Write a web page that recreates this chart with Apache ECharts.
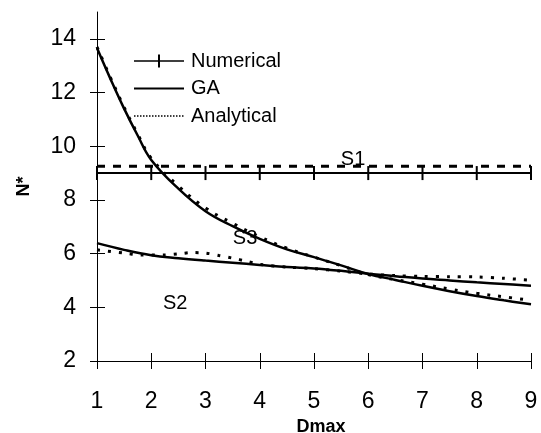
<!DOCTYPE html>
<html>
<head>
<meta charset="utf-8">
<script src="https://cdn.jsdelivr.net/npm/echarts@6/dist/echarts.min.js"></script>
<style>
  html, body { margin: 0; padding: 0; background: #fff; }
  #chart { width: 541px; height: 433px; }
</style>
</head>
<body>
<div id="chart"></div>
<script>
// S1 (flat case)
const s1X = [1, 2, 3, 4, 5, 6, 7, 8, 9];
const s1Numerical = [9, 9, 9, 9, 9, 9, 9, 9, 9];
const s1Analytical = [9.25, 9.25, 9.25, 9.25, 9.25, 9.25, 9.25, 9.25, 9.25];

// S3 (steep curve)
const s3X = [1, 1.25, 1.5, 1.75, 2, 2.5, 3, 3.5, 4, 4.5, 5, 5.5, 6, 6.5, 7, 7.5, 8, 8.5, 9];
const s3GA = [13.66, 12.5, 11.4, 10.4, 9.49, 8.42, 7.58, 7.02, 6.55, 6.16, 5.87, 5.56, 5.24, 5.02, 4.80, 4.60, 4.42, 4.26, 4.11];
const s3Analytical = [13.7, 12.55, 11.45, 10.45, 9.55, 8.52, 7.7, 7.13, 6.63, 6.2, 5.87, 5.55, 5.22, 5.03, 4.86, 4.68, 4.52, 4.39, 4.26];

// S2 (flat-ish curve)
const s2X = [1, 1.5, 2, 2.5, 3, 3.5, 4, 4.5, 5, 5.5, 6, 6.5, 7, 7.5, 8, 8.5, 9];
const s2GA = [6.39, 6.14, 5.94, 5.83, 5.74, 5.66, 5.58, 5.50, 5.45, 5.36, 5.25, 5.16, 5.07, 5.00, 4.93, 4.87, 4.80];
const s2AnalyticalX = [1, 1.5, 1.8, 2.25, 2.5, 2.75, 3, 3.25, 3.5, 3.75, 4, 4.5, 5, 5.5, 6, 6.5, 7, 7.5, 8, 8.5, 9];
const s2Analytical = [6.14, 6.02, 5.95, 5.95, 5.99, 6.04, 6.02, 5.93, 5.83, 5.72, 5.60, 5.50, 5.44, 5.35, 5.24, 5.18, 5.15, 5.14, 5.13, 5.08, 5.01];

// curve labels
const curveLabels = ['S1', 'S2', 'S3'];
const curveLabelX = [5.72, 2.44, 3.73];
const curveLabelY = [9.49, 4.16, 6.58];

const yTicks = [2, 4, 6, 8, 10, 12, 14];

const font = 'Liberation Sans, Arial, sans-serif';
const zip = (xs, ys) => xs.map((x, i) => [x, ys[i]]);

let option = {
    animation: false,
    backgroundColor: '#fff',
    grid: { left: 97, right: 10, top: 12, bottom: 72, outerBoundsMode: 'none', containLabel: false },
    legend: {
        orient: 'vertical',
        left: 128,
        top: 46,
        itemWidth: 50,
        itemHeight: 14,
        itemGap: 7.5,
        textStyle: { fontFamily: font, fontSize: 20, color: '#000', lineHeight: 20, padding: [0, 0, 0, 2] },
        data: [
            { name: 'Numerical', icon: 'path://M0,6.2H24V0.5H26V6.2H50V7.8H26V13.5H24V7.8H0Z' },
            { name: 'GA', itemStyle: { color: 'rgba(0,0,0,0)', borderWidth: 0 } },
            { name: 'Analytical', itemStyle: { color: 'rgba(0,0,0,0)', borderWidth: 0 }, lineStyle: { type: 'dotted', width: 1.5 } }
        ]
    },
    xAxis: [{
        type: 'value', min: 1, max: 9, interval: 1,
        name: 'Dmax', nameLocation: 'middle', nameGap: 53,
        nameTextStyle: { fontFamily: font, fontSize: 18, fontWeight: 'bold', color: '#000', padding: [0, 0, 0, 14] },
        axisLine: { onZero: false, lineStyle: { color: '#000', width: 1 } },
        axisTick: { show: true, length: 8, lineStyle: { color: '#000' } },
        axisLabel: { fontFamily: font, fontSize: 23, color: '#000', margin: 29 },
        splitLine: { show: false }
    }, {
        type: 'value', min: 1, max: 9, interval: 1, position: 'bottom',
        axisLine: { show: false, onZero: false },
        axisTick: { show: true, inside: true, length: 8, lineStyle: { color: '#000' } },
        axisLabel: { show: false },
        splitLine: { show: false }
    }],
    yAxis: [{
        type: 'value', min: 2, max: 15, interval: 2, position: 'left',
        name: 'N*', nameLocation: 'middle', nameGap: 64,
        nameTextStyle: { fontFamily: font, fontSize: 18, fontWeight: 'bold', color: '#000' },
        axisLine: { show: true, onZero: false, lineStyle: { color: '#000', width: 1 } },
        axisTick: { show: true, length: 7, customValues: yTicks, lineStyle: { color: '#000' } },
        axisLabel: { fontFamily: font, fontSize: 23, color: '#000', margin: 21, customValues: yTicks },
        splitLine: { show: false }
    }, {
        type: 'value', min: 2, max: 15, interval: 2, position: 'left', offset: 0,
        axisLine: { show: false, onZero: false },
        axisTick: { show: true, inside: true, length: 8, customValues: yTicks, lineStyle: { color: '#000' } },
        axisLabel: { show: false },
        splitLine: { show: false }
    }],
    series: [
        {
            name: 'Numerical', type: 'line', data: zip(s1X, s1Numerical),
            symbol: 'rect', symbolSize: [2, 14], itemStyle: { color: '#000' },
            lineStyle: { color: '#000', width: 2 }
        },
        {
            name: 'Analytical', type: 'line', data: zip(s1X, s1Analytical), symbol: 'none',
            itemStyle: { color: '#000' },
            lineStyle: { color: '#000', width: 3, type: [8, 8] }
        },
        {
            name: 'GA', type: 'line', data: zip(s3X, s3GA), symbol: 'none', smooth: 0.4,
            itemStyle: { color: '#000' },
            lineStyle: { color: '#000', width: 2.5 }
        },
        {
            name: 'Analytical', type: 'line', data: zip(s3X, s3Analytical), symbol: 'none', smooth: 0.4,
            itemStyle: { color: '#000' },
            lineStyle: { color: '#000', width: 3, type: [3, 8] }
        },
        {
            name: 'GA', type: 'line', data: zip(s2X, s2GA), symbol: 'none', smooth: 0.4,
            itemStyle: { color: '#000' },
            lineStyle: { color: '#000', width: 2.5 }
        },
        {
            name: 'Analytical', type: 'line', data: zip(s2AnalyticalX, s2Analytical), symbol: 'none', smooth: 0.3,
            itemStyle: { color: '#000' },
            lineStyle: { color: '#000', width: 3, type: [3, 8] }
        },
        {
            name: 'labels', type: 'scatter', symbolSize: 0,
            itemStyle: { color: '#000', opacity: 1 },
            data: curveLabels.map((t, i) => ({ name: t, value: [curveLabelX[i], curveLabelY[i]] })),
            label: {
                show: true, position: 'inside', formatter: '{b}',
                fontFamily: font, fontSize: 20, color: '#000', textBorderWidth: 0
            }
        }
    ]
};

let chart = echarts.init(document.getElementById('chart'));
chart.setOption(option);
</script>
</body>
</html>
